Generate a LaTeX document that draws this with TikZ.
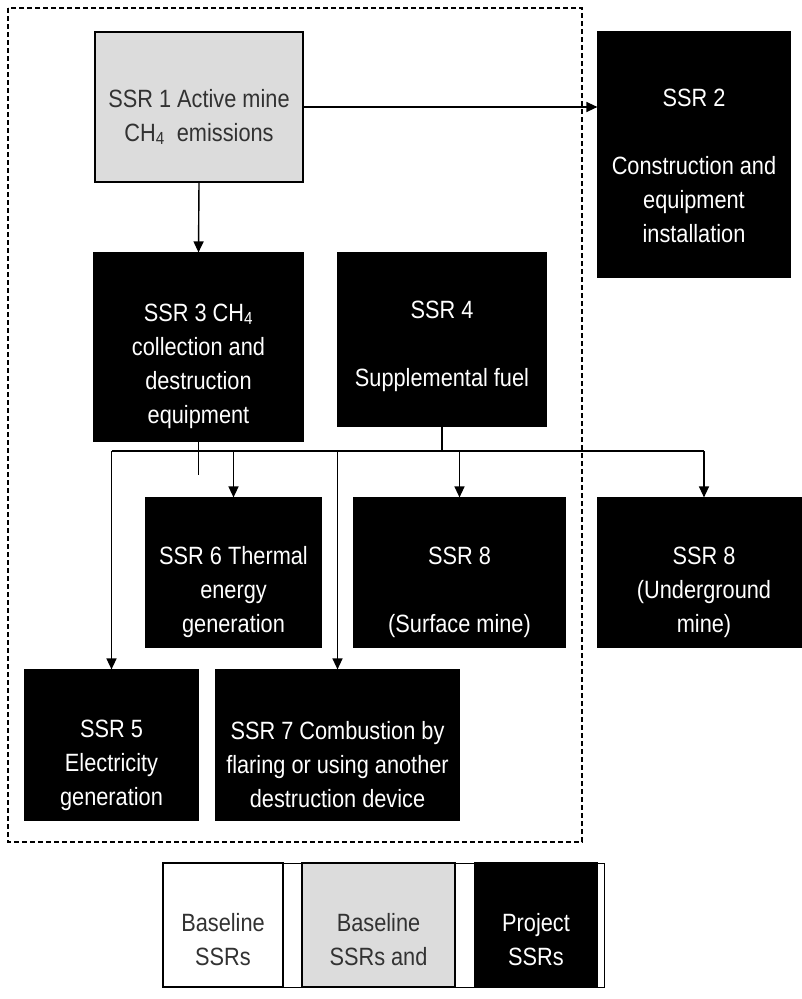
\documentclass[tikz,border=0pt]{standalone}
\usepackage{fontspec}
\setmainfont{Liberation Sans}[FakeStretch=0.87]
\usetikzlibrary{arrows.meta,positioning}

\definecolor{boxgray}{RGB}{220,220,220}
\definecolor{inkgray}{RGB}{50,50,50}

\tikzset{
    project/.style={draw=black, fill=black, line width=1.2pt, inner sep=0pt},
    baseproj/.style={draw=black, fill=boxgray, line width=1.8pt, inner sep=0pt},
    baseonly/.style={draw=black, fill=white, line width=1.8pt, inner sep=0pt},
    lbl/.style={align=center, inner sep=0pt, font=\fontsize{25}{34}\selectfont},
    wlbl/.style={lbl, text=white},
    dlbl/.style={lbl, text=inkgray},
    link/.style={line width=1.4pt},
    arr/.style={link, -{Triangle[length=11pt,width=10pt]}},
}

\begin{document}
\begin{tikzpicture}[x=1pt, y=-1pt]
    \useasboundingbox (0,0) rectangle (802,999);

    % boundary
    \draw[line width=1.5pt, dash pattern=on 5pt off 3pt] (8,8) rectangle (582,842);

    % boxes
    \node[baseproj, minimum width=208pt, minimum height=150pt] (ssr1) at (199,107) {};
    \node[project, minimum width=192pt, minimum height=245pt] (ssr2) at (694,154.5) {};
    \node[project, minimum width=209pt, minimum height=188pt] (ssr3) at (198.5,347) {};
    \node[project, minimum width=208pt, minimum height=173pt] (ssr4) at (442,339.5) {};
    \node[project, minimum width=175pt, minimum height=149pt] (ssr6) at (233.5,572.5) {};
    \node[project, minimum width=211pt, minimum height=149pt] (ssr8s) at (459.5,572.5) {};
    \node[project, minimum width=212pt, minimum height=149pt] (ssr8u) at (704,572.5) {};
    \node[project, minimum width=173pt, minimum height=150pt] (ssr5) at (111.5,745) {};
    \node[project, minimum width=243pt, minimum height=150pt] (ssr7) at (337.5,745) {};

    % texts
    \node[dlbl] (ssr1txt) at ([yshift=-10pt]ssr1.center) {SSR 1 Active mine\\CH\textsubscript{4}\ \ emissions};
    \node[wlbl] (ssr2txt) at ([yshift=-11pt]ssr2.center) {SSR 2\\[34pt]Construction and\\equipment\\installation};
    \node[wlbl] (ssr3txt) at ([yshift=-19pt]ssr3.center) {SSR 3 CH\textsubscript{4}\\collection and\\destruction\\equipment};
    \node[wlbl] (ssr4txt) at ([yshift=-7pt]ssr4.center) {SSR 4\\[34pt]Supplemental fuel};
    \node[wlbl] (ssr6txt) at ([yshift=-20pt]ssr6.center) {SSR 6 Thermal\\energy\\generation};
    \node[wlbl] (ssr8stxt) at ([yshift=-20pt]ssr8s.center) {SSR 8\\[34pt](Surface mine)};
    \node[wlbl] (ssr8utxt) at ([yshift=-20pt]ssr8u.center) {SSR 8\\(Underground\\mine)};
    \node[wlbl] (ssr5txt) at ([yshift=-20pt]ssr5.center) {SSR 5\\Electricity\\generation};
    \node[wlbl] (ssr7txt) at ([yshift=-20pt]ssr7.center) {SSR 7 Combustion by\\flaring or using another\\destruction device};

    % connectors
    \draw[arr] (ssr1.east) -- (ssr1.east -| ssr2.west);
    \draw[arr] (ssr1.south) -- (ssr3.north);
    \coordinate (bus) at (442,451);
    \coordinate (stub) at (198.5,475);
    \draw[link] (ssr4.south) -- (bus);
    \draw[link] (ssr3.south) -- (stub);
    \draw[link] (bus -| ssr5) -- (bus -| ssr8u);
    \draw[arr] (bus -| ssr5) -- (ssr5.north);
    \draw[arr] (bus -| ssr6) -- (ssr6.north);
    \draw[arr] (bus -| ssr7) -- (ssr7.north);
    \draw[arr] (bus -| ssr8s) -- (ssr8s.north);
    \draw[arr] (bus -| ssr8u) -- (ssr8u.north);

    % legend
    \draw[line width=1pt] (163,863) rectangle (604,987);
    \node[baseonly, minimum width=120pt, minimum height=124pt] (lgbase) at (223,925) {};
    \node[baseproj, minimum width=153pt, minimum height=124pt] (lgboth) at (378.5,925) {};
    \node[project, minimum width=122pt, minimum height=124pt] (lgproj) at (536,925) {};
    \node[dlbl] (lgbasetxt) at ([yshift=-15pt]lgbase.center) {Baseline\\SSRs};
    \node[dlbl] (lgbothtxt) at ([yshift=-15pt]lgboth.center) {Baseline\\SSRs and};
    \node[wlbl] (lgprojtxt) at ([yshift=-15pt]lgproj.center) {Project\\SSRs};
\end{tikzpicture}
\end{document}
